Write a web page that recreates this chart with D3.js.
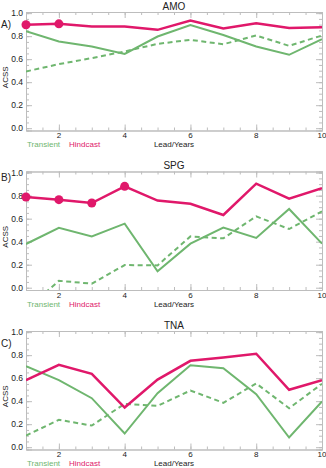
<!DOCTYPE html>
<html>
<head>
<meta charset="utf-8">
<script src="https://cdn.jsdelivr.net/npm/d3@7"></script>
<style>
  body { margin: 0; background: #fff; }
  text { font-family: "Liberation Sans", Arial, sans-serif; fill: #222; }
</style>
</head>
<body>
<svg width="326" height="468"></svg>
<script>
// data
const leads = [1, 2, 3, 4, 5, 6, 7, 8, 9, 10];
const panelNames = ["AMO", "SPG", "TNA"];
const panelTags = ["A)", "B)", "C)"];

const hindAMO = [0.899, 0.907, 0.884, 0.884, 0.855, 0.936, 0.867, 0.913, 0.872, 0.878];
const transAMO = [0.843, 0.754, 0.71, 0.646, 0.797, 0.896, 0.81, 0.71, 0.638, 0.774];
const dashAMO = [0.493, 0.557, 0.609, 0.667, 0.733, 0.768, 0.73, 0.806, 0.716, 0.806];
const dotsAMO = [1, 2];

const hindSPG = [0.788, 0.765, 0.736, 0.881, 0.757, 0.73, 0.632, 0.904, 0.774, 0.864];
const transSPG = [0.38, 0.52, 0.446, 0.557, 0.142, 0.383, 0.522, 0.432, 0.684, 0.383];
const dashSPG = [-0.19, 0.06, 0.035, 0.197, 0.194, 0.446, 0.429, 0.62, 0.51, 0.664];
const dotsSPG = [1, 2, 3, 4];

const hindTNA = [0.583, 0.716, 0.638, 0.345, 0.588, 0.751, 0.78, 0.812, 0.499, 0.583];
const transTNA = [0.704, 0.583, 0.426, 0.119, 0.47, 0.713, 0.687, 0.461, 0.084, 0.397];
const dashTNA = [0.101, 0.238, 0.188, 0.377, 0.359, 0.493, 0.386, 0.554, 0.339, 0.551];
const dotsTNA = [];

const yTicks = [0, 0.2, 0.4, 0.6, 0.8, 1.0];
const xTicks = [2, 4, 6, 8, 10];

const hindcasts = [hindAMO, hindSPG, hindTNA];
const transients = [transAMO, transSPG, transTNA];
const dashed = [dashAMO, dashSPG, dashTNA];
const dots = [dotsAMO, dotsSPG, dotsTNA];

const pink = "#e0186a";
const green = "#6fb66f";
const frame = "#bdbdbd";

const svg = d3.select("svg");
const left = 26, right = 322, plotH = 118.5;
const tagOffsets = [15.5, 9.5, 16];

let x = d3.scaleLinear().domain([1, 10]).range([left, right]);

panelNames.forEach((name, i) => {
  let top = 12 + i * 159.5;
  let y = d3.scaleLinear().domain([-0.02, 1.01]).range([top + plotH, top]);
  let g = svg.append("g");

  // clip for lines that go below zero
  svg.append("clipPath").attr("id", "clip" + i)
    .append("rect").attr("x", left).attr("y", top)
    .attr("width", right - left).attr("height", plotH);

  // axes with inward ticks, IDL style
  g.append("g").attr("transform", `translate(0,${top + plotH})`)
    .call(d3.axisBottom(x).tickValues(d3.range(1, 10.01, 0.5)).tickSize(-3).tickFormat(""));
  g.append("g").attr("transform", `translate(0,${top + plotH})`)
    .call(d3.axisBottom(x).tickValues(xTicks).tickSize(-6).tickFormat(""));
  g.append("g").attr("transform", `translate(0,${top})`)
    .call(d3.axisTop(x).tickValues(d3.range(1, 10.01, 0.5)).tickSize(-3).tickFormat(""));
  g.append("g").attr("transform", `translate(0,${top})`)
    .call(d3.axisTop(x).tickValues(xTicks).tickSize(-6).tickFormat(""));
  g.append("g").attr("transform", `translate(${left},0)`)
    .call(d3.axisLeft(y).tickValues(d3.range(0, 1.001, 0.05)).tickSize(-3).tickFormat(""));
  g.append("g").attr("transform", `translate(${left},0)`)
    .call(d3.axisLeft(y).tickValues(yTicks).tickSize(-6).tickFormat(""));
  g.append("g").attr("transform", `translate(${right},0)`)
    .call(d3.axisRight(y).tickValues(d3.range(0, 1.001, 0.05)).tickSize(-3).tickFormat(""));
  g.append("g").attr("transform", `translate(${right},0)`)
    .call(d3.axisRight(y).tickValues(yTicks).tickSize(-6).tickFormat(""));
  g.selectAll(".domain").attr("stroke", frame);
  g.selectAll(".tick line").attr("stroke", frame);

  // tick labels
  g.selectAll(".ylab").data(yTicks).join("text")
    .attr("x", left - 3).attr("y", (d) => y(d) + 3)
    .attr("text-anchor", "end").attr("font-size", 8.5)
    .text((d) => d3.format(".1f")(d));
  g.selectAll(".xlab").data(xTicks).join("text")
    .attr("x", (d) => x(d)).attr("y", top + plotH + 7.8)
    .attr("text-anchor", "middle").attr("font-size", 8)
    .text((d) => d);

  g.append("text").attr("x", (left + right) / 2).attr("y", top - 2.5)
    .attr("text-anchor", "middle").attr("font-size", 10).text(name);
  g.append("text").attr("x", 1).attr("y", top + tagOffsets[i])
    .attr("font-size", 10).text(panelTags[i]);
  g.append("text")
    .attr("transform", `translate(7.5,${top + plotH / 2 + 6}) rotate(-90)`)
    .attr("text-anchor", "middle").attr("font-size", 8).text("ACSS");

  // legend row under the axis
  let ly = top + plotH + 16.8;
  g.append("text").attr("x", 27).attr("y", ly).attr("font-size", 8)
    .style("fill", green).text("Transient");
  g.append("text").attr("x", 69).attr("y", ly).attr("font-size", 8)
    .style("fill", pink).text("Hindcast");
  g.append("text").attr("x", (left + right) / 2).attr("y", ly)
    .attr("text-anchor", "middle").attr("font-size", 8).text("Lead/Years");

  let line = d3.line().x((d, j) => x(leads[j])).y((d) => y(d));
  let lines = g.append("g").attr("clip-path", `url(#clip${i})`);

  lines.append("path").attr("d", line(dashed[i]))
    .attr("fill", "none").attr("stroke", green).attr("stroke-width", 2)
    .attr("stroke-dasharray", "5,3.5");
  lines.append("path").attr("d", line(transients[i]))
    .attr("fill", "none").attr("stroke", green).attr("stroke-width", 2);
  lines.append("path").attr("d", line(hindcasts[i]))
    .attr("fill", "none").attr("stroke", pink).attr("stroke-width", 2.5);

  g.selectAll(".dot").data(dots[i]).join("circle")
    .attr("cx", (d) => x(d)).attr("cy", (d) => y(hindcasts[i][d - 1]))
    .attr("r", 4.5).attr("fill", pink);
});
</script>
</body>
</html>
